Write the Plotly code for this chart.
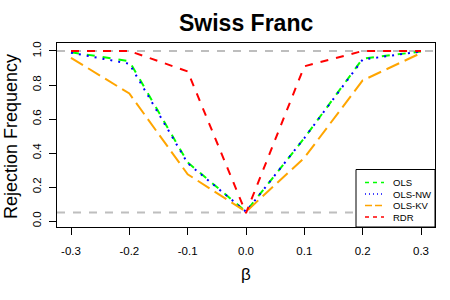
import plotly.graph_objects as go

beta = [-0.3, -0.2, -0.1, 0.0, 0.1, 0.2, 0.3]
ols = [0.993, 0.94, 0.345, 0.055, 0.488, 0.955, 0.997]
ols_nw = [0.99, 0.925, 0.34, 0.055, 0.488, 0.95, 0.997]
ols_kv = [0.96, 0.75, 0.275, 0.055, 0.372, 0.827, 0.988]
rdr = [1.0, 1.0, 0.88, 0.047, 0.91, 1.0, 1.0]
ref_levels = [1.0, 0.05]
x_ticks = [-0.3, -0.2, -0.1, 0.0, 0.1, 0.2, 0.3]
y_ticks = [0.0, 0.2, 0.4, 0.6, 0.8, 1.0]

names = ["OLS", "OLS-NW", "OLS-KV", "RDR"]
series = [ols, ols_nw, ols_kv, rdr]
colors = ["#00FF00", "#0000FF", "#FFA500", "#FF0000"]
dashes = ["8px,8px", "2px,6px", "14px,6px", "8px,8px"]
legend_dashes = ["4px,4px", "1px,3px", "7px,3px", "4px,4px"]

FONT = "Liberation Sans, Arial, sans-serif"
W, H = 450, 300
L, R, T, B = 57, 15, 43, 73
PW, PH = W - L - R, H - T - B

def px(xp):
    return (xp - L) / PW

def py(yp):
    return (H - B - yp) / PH

fig = go.Figure()
for nm, ys, c, d in zip(names, series, colors, dashes):
    fig.add_trace(go.Scatter(x=beta, y=ys, mode="lines", name=nm,
                             line=dict(color=c, width=2, dash=d),
                             showlegend=False))

shapes = []
for lv in ref_levels:
    shapes.append(dict(type="line", xref="paper", yref="y", x0=0, x1=1, y0=lv, y1=lv,
                       line=dict(color="#BEBEBE", width=2, dash="8px,8px"), layer="below"))

# legend box
shapes.append(dict(type="rect", xref="paper", yref="paper", x0=px(356), x1=1,
                   y0=0, y1=py(169.5), line=dict(color="black", width=1),
                   fillcolor="white"))
annotations = []
row_y = [182.5, 194, 205.5, 217]
for nm, c, d, ry in zip(names, colors, legend_dashes, row_y):
    shapes.append(dict(type="line", xref="paper", yref="paper", x0=px(365), x1=px(384),
                       y0=py(ry), y1=py(ry), line=dict(color=c, width=1.3, dash=d)))
    annotations.append(dict(text=nm, xref="paper", yref="paper", x=px(391), y=py(ry),
                            xanchor="left", yanchor="middle", showarrow=False,
                            font=dict(family=FONT, size=9.5, color="black")))

annotations.append(dict(text="<b>Swiss Franc</b>", xref="paper", yref="paper",
                        x=0.5, y=py(23), xanchor="center", yanchor="middle",
                        showarrow=False, font=dict(family=FONT, size=23, color="black")))
annotations.append(dict(text="Rejection Frequency", xref="paper", yref="paper",
                        x=px(11), y=py(137), xanchor="center", yanchor="middle", textangle=-90,
                        showarrow=False, font=dict(family=FONT, size=18, color="black")))
annotations.append(dict(text="β", xref="paper", yref="paper",
                        x=px(246), y=py(274), xanchor="center", yanchor="middle",
                        showarrow=False, font=dict(family=FONT, size=17, color="black")))

fig.update_layout(
    width=W, height=H, margin=dict(l=L, r=R, t=T, b=B, pad=0, autoexpand=False),
    plot_bgcolor="white", paper_bgcolor="white",
    shapes=shapes, annotations=annotations, showlegend=False,
    font=dict(family=FONT, color="black"),
)
fig.update_xaxes(range=[-0.324, 0.324], tickvals=x_ticks, automargin=False,
                 ticktext=[f"{v:.1f}" for v in x_ticks],
                 showgrid=False, zeroline=False, showline=True, mirror=True,
                 linecolor="black", linewidth=1, ticks="outside", ticklen=7,
                 tickcolor="black", tickfont=dict(family=FONT, size=11.5, color="black"),
                 ticklabelstandoff=6)
fig.update_yaxes(range=[-0.035, 1.047], tickvals=y_ticks, automargin=False,
                 ticktext=[f"{v:.1f}" for v in y_ticks],
                 showgrid=False, zeroline=False, showline=True, mirror=True,
                 linecolor="black", linewidth=1, ticks="outside", ticklen=7,
                 tickcolor="black", tickangle=-90,
                 tickfont=dict(family=FONT, size=11.5, color="black"),
                 ticklabelstandoff=3)

fig.write_html("out.html", config={"displayModeBar": False},
               post_script="document.body.style.margin='0';")
